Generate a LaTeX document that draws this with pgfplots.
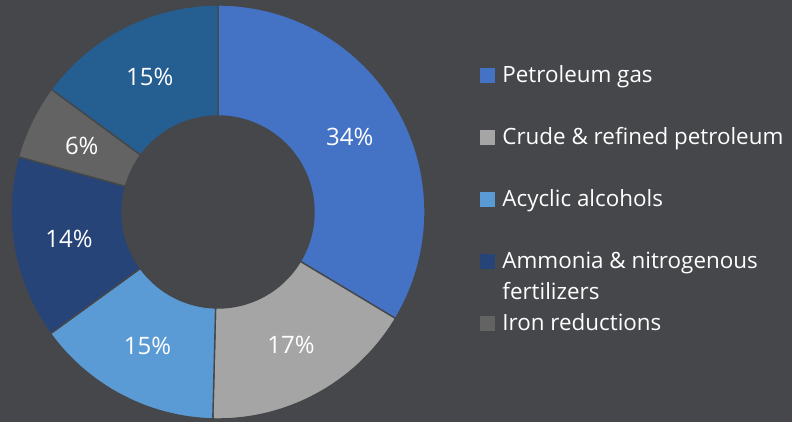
\documentclass[border=0pt]{standalone}
\usepackage{fontspec}
\setmainfont{Open Sans}
\usepackage{pgfplots}
\pgfplotsset{compat=1.18}
\usepackage{pgfplotstable}

\definecolor{bg}{HTML}{45474A}
\definecolor{c0}{HTML}{4472C4}
\definecolor{c1}{HTML}{A5A5A5}
\definecolor{c2}{HTML}{5B9BD5}
\definecolor{c3}{HTML}{264478}
\definecolor{c4}{HTML}{636363}
\definecolor{c5}{HTML}{255E91}

% shares, clockwise from 12 o'clock
\pgfplotstableread{
name value
petroleum-gas 33.6
crude-refined 16.8
acyclic-alcohols 14.6
ammonia-fertilizers 14.3
iron-reductions 5.8
other 14.9
}\sharetable

\begin{document}
\begin{tikzpicture}
\def\cum{0}%
\pgfplotsforeachungrouped \i in {0,...,5}{%
  \pgfplotstablegetelem{\i}{value}\of\sharetable
  \let\curval\pgfplotsretval
  \pgfmathsetmacro\sa{90-3.6*\cum}%
  \pgfmathsetmacro\cum{\cum+\curval}%
  \pgfmathsetmacro\ea{90-3.6*\cum}%
  \pgfmathsetmacro\ma{(\sa+\ea)/2}%
  \expandafter\xdef\csname sa\i\endcsname{\sa}%
  \expandafter\xdef\csname ea\i\endcsname{\ea}%
  \expandafter\xdef\csname ma\i\endcsname{\ma}%
  \expandafter\xdef\csname val\i\endcsname{\curval}%
}%
\begin{axis}[hide axis, x=0.5pt, y=0.5pt,
  xmin=0, xmax=792, ymin=0, ymax=422, enlargelimits=false, clip=false,
  legend style={at={(0.6061,0.843)}, anchor=north west, draw=none, fill=none,
    inner sep=0pt, text=white, font=\fontsize{11.2}{12}\selectfont,
    row sep=0pt, column sep=3.5pt, cells={anchor=base west},
    nodes={inner sep=0pt, text height=8pt, text depth=7.5pt}},
  legend image code/.code={\fill[#1] (0pt,0pt) rectangle (7.5pt,7.5pt);}]
  \fill[bg] (axis cs:0,0) rectangle (axis cs:792,422);
  \pgfplotsinvokeforeach{0,...,5}{%
    \filldraw[fill=c#1, draw=bg, line width=0.7pt]
      (axis cs:{218+207*cos(\csname sa#1\endcsname)},{210+207*sin(\csname sa#1\endcsname)})
      arc[start angle=\csname sa#1\endcsname, end angle=\csname ea#1\endcsname, radius=103.5pt]
      -- (axis cs:{218+96*cos(\csname ea#1\endcsname)},{210+96*sin(\csname ea#1\endcsname)})
      arc[start angle=\csname ea#1\endcsname, end angle=\csname sa#1\endcsname, radius=48pt]
      -- cycle;
  }
  \pgfplotsinvokeforeach{0,...,5}{%
    \node[text=white, font=\fontsize{12}{13}\selectfont]
      at (axis cs:{218+151.5*cos(\csname ma#1\endcsname)},{210+151.5*sin(\csname ma#1\endcsname)})
      {\pgfmathprintnumber[fixed,precision=0,assume math mode=true]{\csname val#1\endcsname}\%};
  }
  \addlegendimage{fill=c0, draw=none}\addlegendentry{Petroleum gas}
  \addlegendimage{empty legend}\addlegendentry{}
  \addlegendimage{fill=c1, draw=none}\addlegendentry{Crude \& refined petroleum}
  \addlegendimage{empty legend}\addlegendentry{}
  \addlegendimage{fill=c2, draw=none}\addlegendentry{Acyclic alcohols}
  \addlegendimage{empty legend}\addlegendentry{}
  \addlegendimage{fill=c3, draw=none}\addlegendentry{Ammonia \& nitrogenous}
  \addlegendimage{empty legend}\addlegendentry{fertilizers}
  \addlegendimage{fill=c4, draw=none}\addlegendentry{Iron reductions}
\end{axis}
\end{tikzpicture}
\end{document}
